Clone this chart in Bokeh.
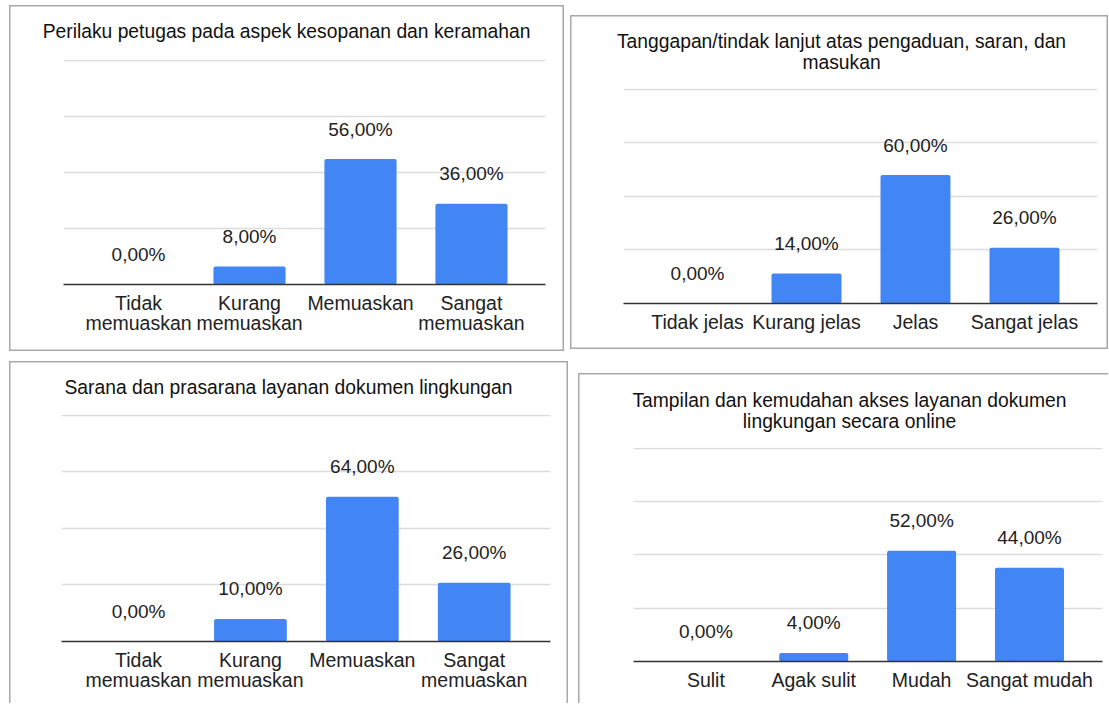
from bokeh.plotting import figure
from bokeh.models import Range1d, LinearAxis, Grid, FixedTicker, ColumnDataSource, Spacer
from bokeh.layouts import row, column
from bokeh.core.properties import value
from bokeh.embed import file_html
from bokeh.resources import INLINE

# ---------------- data ----------------
title1 = "Perilaku petugas pada aspek kesopanan dan keramahan"
cats1 = ["Tidak\nmemuaskan", "Kurang\nmemuaskan", "Memuaskan", "Sangat\nmemuaskan"]
vals1 = [0, 8, 56, 36]

title2 = "Tanggapan/tindak lanjut atas pengaduan, saran, dan\nmasukan"
cats2 = ["Tidak jelas", "Kurang jelas", "Jelas", "Sangat jelas"]
vals2 = [0, 14, 60, 26]

title3 = "Sarana dan prasarana layanan dokumen lingkungan"
cats3 = ["Tidak\nmemuaskan", "Kurang\nmemuaskan", "Memuaskan", "Sangat\nmemuaskan"]
vals3 = [0, 10, 64, 26]

title4 = "Tampilan dan kemudahan akses layanan dokumen\nlingkungan secara online"
cats4 = ["Sulit", "Agak sulit", "Mudah", "Sangat mudah"]
vals4 = [0, 4, 52, 44]

y_ticks = [0, 25, 50, 75, 100]

# ---------------- style ----------------
FONT = "Liberation Sans"
FS = "19px"
BAR = "#4285F4"
TXT = "#222222"
YMAX = 100.4
BOX = "#a8a8a8"


def fmt(v):
    return f"{v:.2f}".replace(".", ",") + "%"


def blank(w, h):
    return figure(width=w, height=h, x_range=Range1d(0, w), y_range=Range1d(0, h),
                  x_axis_type=None, y_axis_type=None, toolbar_location=None,
                  output_backend="svg", min_border=0, outline_line_color=None,
                  border_fill_color=None, background_fill_color=None,
                  frame_align=False)


def make_chart(title, cats, vals, w, th, ch, left, right, top, bottom, xr, bw,
               title_x, title_top, shadow):
    # title strip
    t = blank(w, th)
    t.text(x=[title_x], y=[th - title_top], text=[title], text_align="center",
           text_baseline="top", text_font=value(FONT), text_font_size="19.3px",
           text_color="#111111", text_line_height=1.0)

    p = figure(width=w, height=ch, x_range=Range1d(*xr), y_range=Range1d(0, YMAX),
               x_axis_type=None, y_axis_type=None, toolbar_location=None,
               output_backend="svg", min_border_left=left, min_border_right=right,
               min_border_top=top, min_border_bottom=bottom,
               outline_line_color=None, border_fill_color=None,
               background_fill_color=None, frame_align=False)
    p.add_layout(Grid(dimension=1, ticker=FixedTicker(ticks=y_ticks),
                      grid_line_color="#dcdcdc", grid_line_width=1.3))
    xs = list(range(len(cats)))
    src = ColumnDataSource(dict(x=xs, top=vals, lab=[fmt(v) for v in vals]))
    p.vbar(x="x", top="top", width=bw, source=src, fill_color=BAR,
           line_color=None, border_radius=2)
    p.text(x="x", y="top", text="lab", source=src, text_align="center",
           text_baseline="alphabetic", y_offset=-30, text_font=value(FONT),
           text_font_size=FS, text_color=TXT)
    ax = LinearAxis(ticker=FixedTicker(ticks=xs),
                    major_label_overrides={i: c for i, c in enumerate(cats)})
    ax.axis_line_color = "#333333"
    ax.axis_line_width = 1.5
    ax.major_tick_line_color = None
    ax.minor_tick_line_color = None
    ax.major_tick_out = 0
    ax.major_tick_in = 0
    ax.major_label_standoff = 7
    ax.major_label_text_font = FONT
    ax.major_label_text_font_size = "19.5px"
    ax.major_label_text_color = TXT
    ax.major_label_text_line_height = 0.95
    p.add_layout(ax, "below")
    return column(t, p, styles={"box-shadow": shadow})


full = f"inset 0 0 0 1.5px {BOX}"
three = f"inset 1.5px 1.5px 0 {BOX}, inset -1.5px 0 0 {BOX}"
two = f"inset 1.5px 1.5px 0 {BOX}"

b1 = make_chart(title1, cats1, vals1, 555, 48, 298, 54, 19, 6, 67,
                (-0.676, 3.667), 0.65, 277, 15.5, full)
b2 = make_chart(title2, cats2, vals2, 538, 66, 268, 53, 11, 7, 46,
                (-0.679, 3.67), 0.642, 271, 15.5, full)
b3 = make_chart(title3, cats3, vals3, 559, 46, 296, 52, 18, 7, 62,
                (-0.689, 3.682), 0.65, 279, 15.5, three)
b4 = make_chart(title4, cats4, vals4, 530, 66, 264, 55, 6, 8, 42,
                (-0.671, 3.677), 0.64, 271, 16.0, two)

top_row = row(Spacer(width=9, height=10), column(Spacer(height=5), b1),
              Spacer(width=6, height=10), column(Spacer(height=15), b2))
bottom_row = row(Spacer(width=9, height=10), b3, Spacer(width=10, height=10),
                 column(Spacer(height=12), b4))
layout = column(top_row, Spacer(height=10), bottom_row)

open("out.html", "w").write(file_html(layout, INLINE))
